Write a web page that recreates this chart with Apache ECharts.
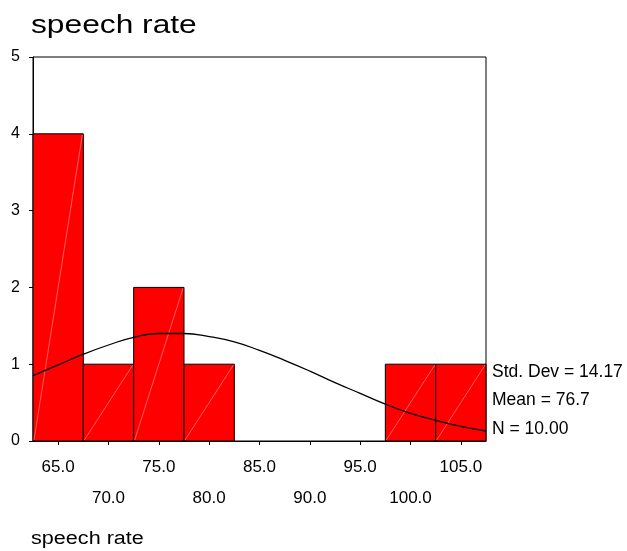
<!DOCTYPE html>
<html>
<head>
<meta charset="utf-8">
<script src="https://cdn.jsdelivr.net/npm/echarts@6/dist/echarts.min.js"></script>
<style>
  html, body { margin: 0; padding: 0; background: #fff; }
  #chart { width: 627px; height: 551px; }
</style>
</head>
<body>
<div id="chart"></div>
<script>
// histogram bins: [from, to, count]
var binStarts = [62.5, 67.5, 72.5, 77.5, 82.5, 87.5, 92.5, 97.5, 102.5];
var binWidth = 5;
var counts = [4, 1, 2, 1, 0, 0, 0, 1, 1];

// normal curve
var curveX = [62.5, 65, 67.5, 70, 72.5, 75, 77.5, 80, 82.5, 85, 87.5, 90, 92.5, 95, 97.5, 100, 102.5, 105, 107.5];
var curveY = [0.85, 0.99, 1.13, 1.25, 1.35, 1.40, 1.40, 1.36, 1.29, 1.18, 1.05, 0.91, 0.76, 0.62, 0.48, 0.36, 0.27, 0.19, 0.13];

var xTicks = [65, 70, 75, 80, 85, 90, 95, 100, 105];
var statLabels = ["Std. Dev = 14.17", "Mean = 76.7", "N = 10.00"];

var font = "Liberation Sans, Arial, sans-serif";
var myChart = echarts.init(document.getElementById("chart"));

var barData = [];
binStarts.forEach(function (s, i) {
    if (counts[i] > 0) barData.push([s, s + binWidth, counts[i]]);
});
var lineData = curveX.map(function (x, i) { return [x, curveY[i]]; });

function renderBar(params, api) {
    var p0 = api.coord([api.value(0), 0]);
    var p1 = api.coord([api.value(1), api.value(2)]);
    var w = p1[0] - p0[0], h = p0[1] - p1[1];
    return {
        type: 'group',
        children: [{
            type: 'rect',
            shape: { x: p0[0], y: p1[1], width: w, height: h },
            style: { fill: '#ff0000', stroke: '#000', lineWidth: 1 }
        }, {
            type: 'line',
            shape: { x1: p0[0] + 1, y1: p0[1] - 1, x2: p1[0] - 1, y2: p1[1] + 1 },
            style: { stroke: 'rgba(255,200,200,0.8)', lineWidth: 0.6 }
        }]
    };
}

var option = {
    animation: false,
    backgroundColor: '#fff',
    textStyle: { fontFamily: font },
    grid: {
        left: 33, top: 57, right: 141, bottom: 110,
        show: true, borderColor: '#000', borderWidth: 1
    },
    xAxis: {
        type: 'value',
        min: 62.5,
        max: 107.5,
        axisLine: { lineStyle: { color: '#000', width: 1 } },
        axisTick: { length: 4, lineStyle: { color: '#000' }, customValues: xTicks },
        splitLine: { show: false },
        axisLabel: {
            customValues: xTicks,
            color: '#000',
            fontSize: 17,
            fontFamily: font,
            margin: 11,
            lineHeight: 31,
            verticalAlign: 'top',
            formatter: function (v) {
                var s = v.toFixed(1);
                return (v % 10 === 0) ? '\n' + s : s;
            }
        }
    },
    yAxis: {
        type: 'value',
        min: 0,
        max: 5,
        interval: 1,
        axisLine: { show: true, lineStyle: { color: '#000', width: 1 } },
        axisTick: { show: true, length: 4, lineStyle: { color: '#000' } },
        splitLine: { show: false },
        axisLabel: { color: '#000', fontSize: 16, fontFamily: font, margin: 13 }
    },
    graphic: [
        { type: 'text', x: 31, y: 13, scaleX: 1.22, style: { text: 'speech rate', font: '26px ' + font, fill: '#000' } },
        { type: 'text', x: 31, y: 530, scaleX: 1.2, style: { text: 'speech rate', font: '18px ' + font, fill: '#000' } },
        { type: 'text', x: 492, y: 372, style: { text: statLabels[0], font: '17.5px ' + font, fill: '#000', verticalAlign: 'middle' } },
        { type: 'text', x: 492, y: 400, style: { text: statLabels[1], font: '17.5px ' + font, fill: '#000', verticalAlign: 'middle' } },
        { type: 'text', x: 492, y: 429, style: { text: statLabels[2], font: '17.5px ' + font, fill: '#000', verticalAlign: 'middle' } }
    ],
    series: [{
        type: 'custom',
        renderItem: renderBar,
        data: barData,
        encode: { x: [0, 1], y: 2 },
        z: 2
    }, {
        type: 'line',
        data: lineData,
        smooth: true,
        symbol: 'none',
        lineStyle: { color: '#000', width: 1.3 },
        z: 3
    }]
};
myChart.setOption(option);
</script>
</body>
</html>
